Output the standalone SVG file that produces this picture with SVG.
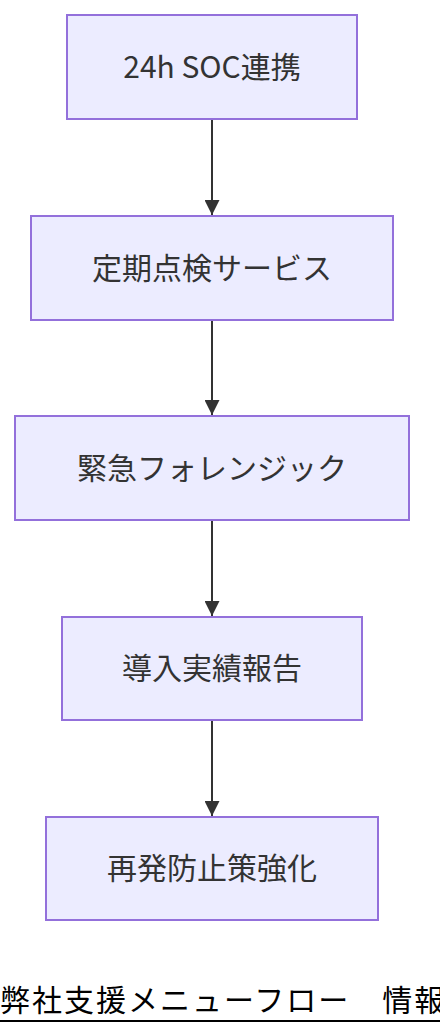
<svg xmlns="http://www.w3.org/2000/svg" width="440" height="1036" viewBox="0 0 440 1036">
<style>
.node rect{fill:#ECECFF;stroke:#9370DB;stroke-width:2}
.node text{font-family:"Noto Sans CJK JP","Noto Sans",sans-serif;font-size:30px;fill:#333;text-anchor:middle;dominant-baseline:central}
.edge{stroke:#333;stroke-width:2;fill:none}
.title{font-family:"Noto Sans CJK JP",sans-serif;font-size:30px;fill:#000;letter-spacing:2px}
</style>
<defs>
<marker id="arrow" viewBox="0 0 10 10" refX="10" refY="5" markerWidth="7.5" markerHeight="7.5" markerUnits="strokeWidth" orient="auto">
<path d="M0,0 L10,5 L0,10 z" fill="#333"/>
</marker>
</defs>
<rect width="440" height="1036" fill="#fff"/>
<g id="connectors">
<line class="edge" x1="212" y1="120" x2="212" y2="215" marker-end="url(#arrow)"/>
<line class="edge" x1="212" y1="321" x2="212" y2="415" marker-end="url(#arrow)"/>
<line class="edge" x1="212" y1="521" x2="212" y2="616" marker-end="url(#arrow)"/>
<line class="edge" x1="212" y1="721" x2="212" y2="816" marker-end="url(#arrow)"/>
</g>
<g id="n1" class="node"><rect x="67" y="15" width="290" height="104"/><text x="212" y="65">24h SOC連携</text></g>
<g id="n2" class="node"><rect x="31" y="216" width="362" height="104"/><text x="212" y="266">定期点検サービス</text></g>
<g id="n3" class="node"><rect x="15" y="416" width="394" height="104"/><text x="212" y="466">緊急フォレンジック</text></g>
<g id="n4" class="node"><rect x="62" y="617" width="300" height="103"/><text x="212" y="666">導入実績報告</text></g>
<g id="n5" class="node"><rect x="46" y="817" width="332" height="103"/><text x="212" y="866">再発防止策強化</text></g>
<g id="title">
<text class="title" x="0" y="1011">弊社支援メニューフロー　情報</text>
<line x1="0" y1="1021" x2="440" y2="1021" stroke="#000" stroke-width="2"/>
</g>
</svg>
